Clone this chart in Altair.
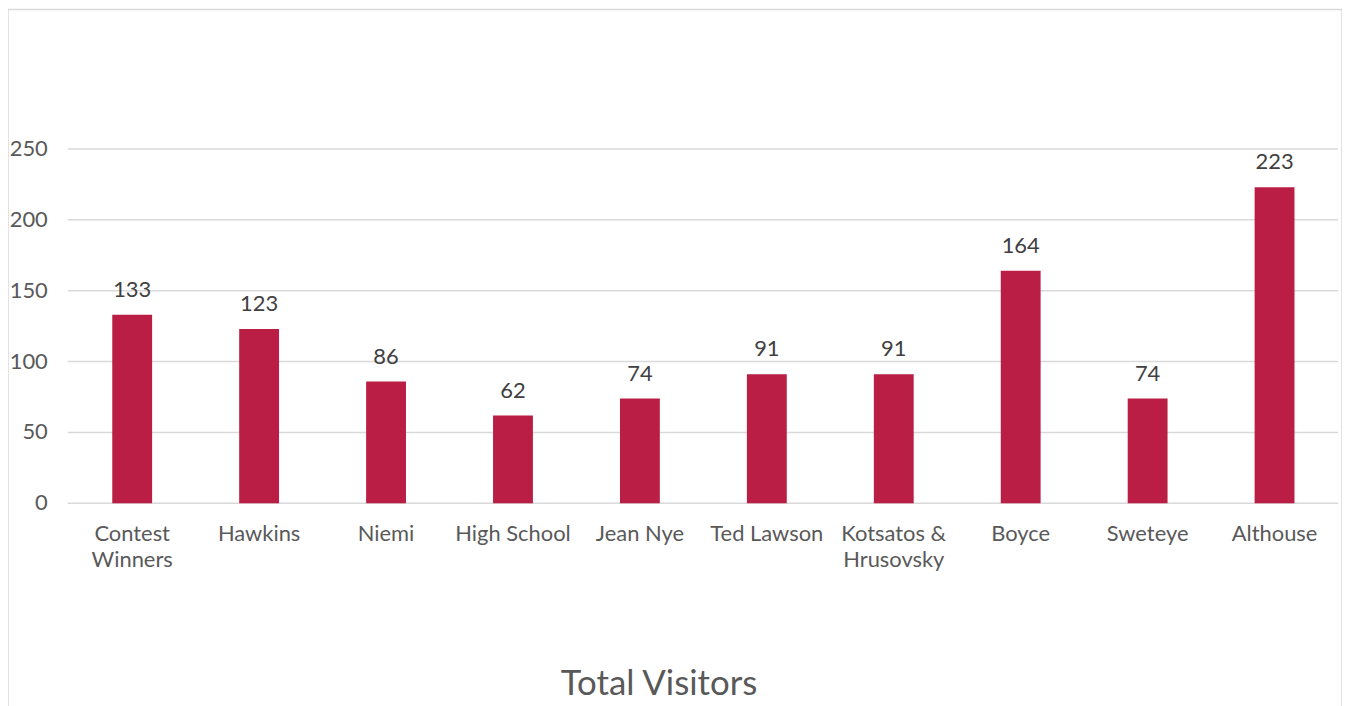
import altair as alt
import pandas as pd

categories = ["Contest Winners", "Hawkins", "Niemi", "High School", "Jean Nye",
              "Ted Lawson", "Kotsatos & Hrusovsky", "Boyce", "Sweteye", "Althouse"]
labels = ["Contest\nWinners", "Hawkins", "Niemi", "High School", "Jean Nye",
          "Ted Lawson", "Kotsatos &\nHrusovsky", "Boyce", "Sweteye", "Althouse"]
values = [133, 123, 86, 62, 74, 91, 91, 164, 74, 223]
ticks = [0, 50, 100, 150, 200, 250]
title_text = "Total Visitors"

FONT = "Lato"
df = pd.DataFrame({"cat": categories, "label": labels, "value": values})
tdf = pd.DataFrame({"tick": ticks})
ttl = pd.DataFrame({"t": [title_text]})

xscale = alt.Scale(domain=categories, range=[61, 1336], paddingInner=0.686, paddingOuter=0.343)
yscale = alt.Scale(domain=[0, 250], range=[496, 140], nice=False, zero=True)

X = alt.X("cat:N", sort=categories, scale=xscale, axis=None)

grid = alt.Chart(tdf).mark_rule(color="#d9d9d9", strokeWidth=1.5).encode(
    y=alt.Y("tick:Q", scale=yscale, axis=None),
    x=alt.value(60), x2=alt.value(1336))

ylabels = alt.Chart(tdf).mark_text(align="right", baseline="middle", font=FONT,
                                   fontSize=22, color="#595959").encode(
    y=alt.Y("tick:Q", scale=yscale, axis=None),
    x=alt.value(40), text="tick:Q")

bars = alt.Chart(df).mark_bar(color="#BA1E44").encode(
    x=X, y=alt.Y("value:Q", scale=yscale, axis=None))

vlabels = alt.Chart(df).mark_text(baseline="alphabetic", dy=-18, font=FONT,
                                  fontSize=22, color="#404040").encode(
    x=X, y=alt.Y("value:Q", scale=yscale, axis=None), text="value:Q")

xlabels = alt.Chart(df).mark_text(baseline="alphabetic", lineBreak="\n", lineHeight=26,
                                  font=FONT, fontSize=22, color="#595959").encode(
    x=X, y=alt.value(534), text="label:N")

title = alt.Chart(ttl).mark_text(baseline="alphabetic", font=FONT, fontSize=35,
                                 color="#595959").encode(
    x=alt.value(654), y=alt.value(689), text="t:N")

chart = alt.layer(grid, ylabels, bars, vlabels, xlabels, title).properties(
    width=1340, height=705, autosize=alt.AutoSizeParams(type="none"), padding=0,
    background="white"
).configure_view(stroke="#d9d9d9", strokeWidth=1.5)

chart.save("out.html", embed_options={"renderer": "svg", "actions": False})
